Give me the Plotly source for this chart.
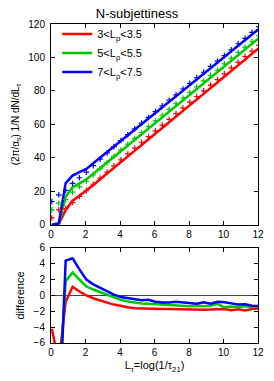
import plotly.graph_objects as go

# bin centres (L_tau)
x = [0.05, 0.45, 0.85, 1.25, 1.65, 2.05, 2.45, 2.85, 3.25, 3.65, 4.05, 4.45, 4.85,
     5.25, 5.65, 6.05, 6.45, 6.85, 7.25, 7.65, 8.05, 8.45, 8.85, 9.25, 9.65, 10.05,
     10.45, 10.85, 11.25, 11.65, 12.05]

labels = ["3&lt;L<sub>ρ</sub>&lt;3.5", "5&lt;L<sub>ρ</sub>&lt;5.5", "7&lt;L<sub>ρ</sub>&lt;7.5"]
colors = ["#ff0000", "#00c800", "#0000ff"]

# solid curves (top panel)
line_3 = [0, 0.5, 9.0, 14.5, 17.5, 20.5, 23.9, 27.3, 30.7, 34.1, 37.5, 40.9, 44.3, 47.7,
          51.1, 54.5, 57.9, 61.3, 64.7, 68.1, 71.5, 74.9, 78.3, 81.7, 85.1, 88.5, 91.9,
          95.3, 98.7, 102.1, 105.5]
line_5 = [0, 0.5, 17.0, 22.5, 24.8, 27.2, 30.6, 34.0, 37.3, 40.7, 44.1, 47.5, 50.8, 54.2,
          57.6, 61.0, 64.3, 67.7, 71.1, 74.5, 77.8, 81.2, 84.6, 88.0, 91.3, 94.7, 98.1,
          101.5, 104.8, 108.2, 111.6]
line_7 = [0, 1.0, 25.0, 29.5, 31.5, 33.5, 36.8, 40.2, 43.5, 46.9, 50.2, 53.5, 56.9, 60.2,
          63.6, 66.9, 70.2, 73.6, 76.9, 80.3, 83.6, 86.9, 90.3, 93.6, 97.0, 100.3, 103.6,
          107.0, 110.3, 113.7, 117.0]

# points (top panel)
pts_3 = [4.2, 9.0, 9.8, 13.4, 17.0, 20.5, 24.3, 28.0, 31.6, 35.3, 38.9, 42.4, 45.9, 49.4,
         52.8, 56.2, 59.6, 63.0, 66.5, 69.8, 73.3, 76.7, 80.1, 83.5, 86.8, 90.2, 93.8,
         97.1, 100.6, 103.8, 107.2]
pts_5 = [9.0, 13.0, 15.2, 19.6, 22.8, 26.1, 29.9, 33.6, 37.3, 41.0, 44.7, 48.3, 51.7, 55.2,
         58.7, 62.1, 65.5, 69.0, 72.4, 75.8, 79.2, 82.5, 86.0, 89.3, 92.4, 96.2, 99.5,
         103.0, 106.2, 109.7, 113.0]
pts_7 = [14.0, 18.0, 20.6, 24.8, 28.2, 31.5, 35.4, 39.3, 43.0, 46.8, 50.4, 53.9, 57.4, 60.8,
         64.2, 67.7, 71.1, 74.5, 77.7, 81.2, 84.6, 88.0, 91.2, 94.7, 97.8, 101.2, 104.6,
         108.2, 111.4, 115.0, 118.4]

# difference (bottom panel)
diff_3 = [-4.2, -8.5, -0.8, 1.1, 0.5, 0.0, -0.35, -0.65, -0.9, -1.15, -1.35, -1.5, -1.6,
          -1.65, -1.68, -1.7, -1.72, -1.72, -1.75, -1.72, -1.78, -1.75, -1.8, -1.78, -1.72,
          -1.7, -1.85, -1.75, -1.9, -1.72, -1.65]
diff_5 = [-9.0, -12.5, 1.8, 2.9, 2.0, 1.15, 0.75, 0.4, 0.05, -0.25, -0.55, -0.75, -0.9,
          -1.0, -1.05, -1.1, -1.2, -1.25, -1.3, -1.3, -1.35, -1.3, -1.35, -1.3, -1.05,
          -1.5, -1.4, -1.45, -1.35, -1.45, -1.4]
diff_7 = [-14.0, -17.0, 4.4, 4.7, 3.3, 2.0, 1.4, 0.95, 0.5, 0.1, -0.2, -0.35, -0.5, -0.6,
          -0.55, -0.8, -0.9, -0.9, -0.8, -0.9, -1.0, -1.05, -0.85, -1.05, -0.8, -0.85,
          -1.0, -1.15, -1.1, -1.3, -1.35]

x_ticks = [0, 2, 4, 6, 8, 10, 12]
top_ticks = [0, 20, 40, 60, 80, 100, 120]
bot_ticks = [-6, -4, -2, 0, 2, 4, 6]

lines = [line_3, line_5, line_7]
pts = [pts_3, pts_5, pts_7]
diffs = [diff_3, diff_5, diff_7]

FONT = "Liberation Sans, Arial, sans-serif"
fig = go.Figure()

for i in range(3):
    fig.add_trace(go.Scatter(x=x, y=lines[i], mode="lines", name=labels[i],
                             line=dict(color=colors[i], width=2.5),
                             xaxis="x", yaxis="y", showlegend=True))
for i in range(3):
    fig.add_trace(go.Scatter(x=x, y=pts[i], mode="markers", showlegend=False,
                             marker=dict(symbol="cross-thin", size=4, color=colors[i],
                                         line=dict(color=colors[i], width=1.2)),
                             xaxis="x", yaxis="y"))
for i in range(3):
    fig.add_trace(go.Scatter(x=x, y=diffs[i], mode="lines", showlegend=False,
                             line=dict(color=colors[i], width=2.5),
                             xaxis="x2", yaxis="y2"))

axis_common = dict(showline=True, linecolor="black", linewidth=1, mirror="ticks",
                   ticks="inside", ticklen=4, tickwidth=1, tickcolor="black",
                   showgrid=False, zeroline=False,
                   tickfont=dict(family=FONT, size=10, color="black"))

fig.update_layout(
    width=274, height=381,
    margin=dict(l=51, r=10, t=24, b=38),
    paper_bgcolor="white", plot_bgcolor="white",
    font=dict(family=FONT, size=11, color="black"),
    title=dict(text="N-subjettiness", x=0.5, xanchor="center", y=0.966, yanchor="middle",
               font=dict(family=FONT, size=13, color="black")),
    showlegend=True,
    legend=dict(x=0.03, y=1.014, xanchor="left", yanchor="top",
                bgcolor="rgba(0,0,0,0)", font=dict(family=FONT, size=11, color="black"),
                tracegroupgap=0),
    xaxis=dict(domain=[0, 1], range=[0, 12], tickvals=x_ticks, anchor="y",
               **axis_common),
    yaxis=dict(domain=[0.37, 1], range=[0, 120], tickvals=top_ticks, anchor="x",
               ticklabelstandoff=3,
               title=dict(text="(2π/α<sub>s</sub>) 1/N dN/dL<sub>τ</sub>",
                          font=dict(family=FONT, size=10), standoff=6),
               **axis_common),
    xaxis2=dict(domain=[0, 1], range=[0, 12], tickvals=x_ticks, anchor="y2",
                title=dict(text="L<sub>τ</sub>=log(1/τ<sub>21</sub>)",
                           font=dict(family=FONT, size=11), standoff=4),
                **axis_common),
    yaxis2=dict(domain=[0, 0.298], range=[-6, 6], tickvals=bot_ticks, anchor="x2",
                ticklabelstandoff=3,
                title=dict(text="difference", font=dict(family=FONT, size=11), standoff=6),
                **axis_common),
)
fig.update_yaxes(selector=dict(anchor="x2"), zeroline=True, zerolinecolor="#444444",
                 zerolinewidth=1)

fig.write_html("out.html", config={"displayModeBar": False},
               post_script="document.body.style.margin='0';document.body.style.overflow='hidden';")
